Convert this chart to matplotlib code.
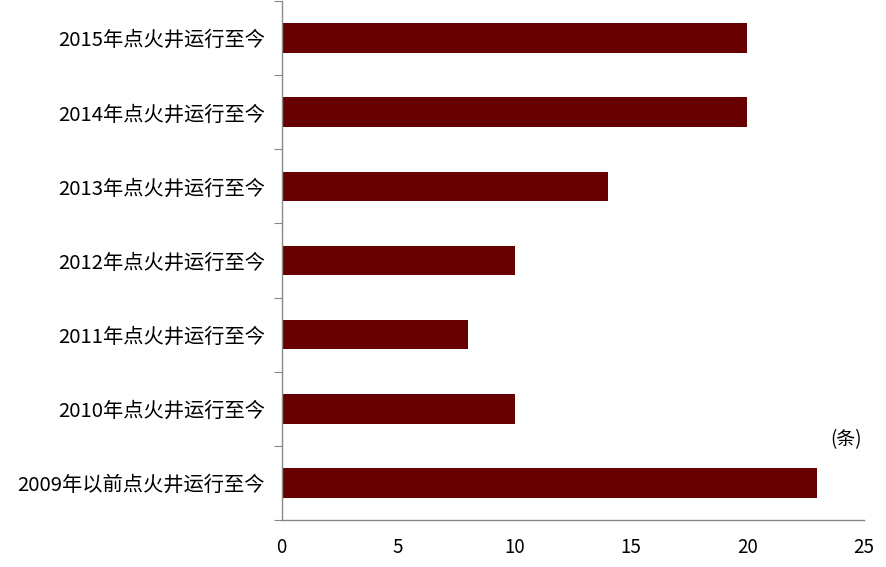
import matplotlib
matplotlib.use('Agg')
import matplotlib.pyplot as plt
import numpy as np

plt.rcParams['font.family'] = ['Noto Sans CJK SC', 'DejaVu Sans']

categories = ['2015年点火井运行至今', '2014年点火井运行至今', '2013年点火井运行至今',
              '2012年点火井运行至今', '2011年点火井运行至今', '2010年点火井运行至今',
              '2009年以前点火井运行至今']
values = [20, 20, 14, 10, 8, 10, 23]
xticks = [0, 5, 10, 15, 20, 25]

fig = plt.figure(figsize=(8.86, 5.67), dpi=100)
ax = fig.add_axes([0.318, 0.083, 0.657, 0.915])

y = np.arange(len(categories))
ax.barh(y, values, height=0.4, color='#660000')
ax.set_ylim(len(categories) - 0.5, -0.5)
ax.set_xlim(0, 25)

# ticks between categories, labels centred on bars
ax.set_yticks(np.arange(len(categories) + 1) - 0.5)
ax.set_yticklabels([])
ax.set_yticks(y, minor=True)
ax.set_yticklabels(categories, minor=True, fontsize=14.6)
ax.tick_params(axis='y', which='major', length=6, color='#888888', direction='out')
ax.tick_params(axis='y', which='minor', length=0, pad=12)

ax.set_xticks(xticks)
ax.set_xticklabels([str(t) for t in xticks], fontsize=13.5)
ax.tick_params(axis='x', length=0, pad=12)

for s in ['top', 'right']:
    ax.spines[s].set_visible(False)
for s in ['left', 'bottom']:
    ax.spines[s].set_color('#888888')
    ax.spines[s].set_linewidth(1.0)

ax.text(0.97, 0.155, '(条)', transform=ax.transAxes, fontsize=13.5,
        ha='center', va='center')

fig.savefig('out.png', dpi=100)
